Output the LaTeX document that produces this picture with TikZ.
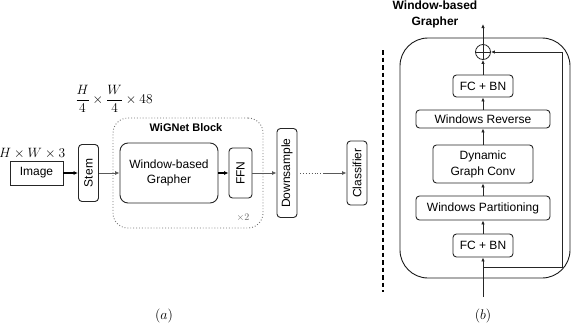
\RequirePackage{fix-cm}
\documentclass[tikz,border=0pt]{standalone}
\usepackage[no-math]{fontspec}
\newfontfamily\arialf{Liberation Sans}
\usetikzlibrary{arrows.meta}
\begin{document}
\begin{tikzpicture}[x=1pt,y=-1pt,
  txt/.style={font=\arialf\fontsize{12}{15}\selectfont},
  box/.style={txt, draw=black!85, line width=0.9pt, rounded corners=3.5pt, inner sep=0pt, align=center},
  vbox/.style={box, rotate=90},
  tipa/.style={-{Latex[length=4.5pt,width=4pt]}},
  thickarrow/.style={tipa, line width=1.5pt, black},
  thinarrow/.style={tipa, line width=0.9pt, black!65},
  barrow/.style={-{Latex[length=4pt,width=3.5pt]}, line width=0.8pt, black!85},
  mathlbl/.style={font=\fontsize{13.5}{16}\selectfont, inner sep=0pt},
  sublbl/.style={font=\fontsize{14}{16}\selectfont, inner sep=0pt},
]
\useasboundingbox (0,0) rectangle (571,335);

% ---------- (a) ----------
\node[draw=black!55, dotted, line width=0.9pt, rounded corners=15pt, minimum width=150pt, minimum height=110pt] (blk) at (188,173) {};
\node[txt, font=\arialf\bfseries\fontsize{11}{13}\selectfont, inner sep=0pt] (blklbl) at (186,128) {WiGNet Block};
\node[font=\fontsize{10}{12}\selectfont, text=black!60, inner sep=0pt] (times2) at (243,218) {$\times 2$};

\node[box, rounded corners=0pt, minimum width=53pt, minimum height=24pt] (img) at (36.5,173) {Image};
\node[mathlbl, anchor=west] (imglbl) at (-1,153) {$H\times W\times 3$};
\node[vbox, minimum width=57pt, minimum height=20pt] (stem) at (88.5,173) {Stem};
\node[mathlbl] (fraclbl) at (114,99) {$\displaystyle\frac{H}{4}\times\frac{W}{4}\times 48$};
\node[box, rounded corners=8pt, minimum width=98pt, minimum height=60pt] (graph) at (169,173) {Window-based\\Grapher};
\node[vbox, minimum width=50pt, minimum height=23pt] (ffn) at (240.5,173) {FFN};
\node[vbox, minimum width=89pt, minimum height=20pt] (ds) at (287,173) {Downsample};
\node[vbox, minimum width=64pt, minimum height=20pt] (cls) at (357,173) {Classifier};

\draw[thickarrow] (img) -- (stem);
\draw[thinarrow] (stem) -- (graph);
\draw[thickarrow] (graph) -- (ffn);
\draw[thinarrow] (ffn) -- (ds);
\coordinate (d1) at (300,173);
\coordinate (d2) at (324,173);
\draw[dotted, line width=0.9pt, black!65] (d1) -- (d2);
\draw[thinarrow] (d2) -- (cls);

\node[sublbl] (la) at (164,316) {$(a)$};

% ---------- divider ----------
\coordinate (v1) at (383,50);
\coordinate (v2) at (383,292);
\draw[line width=1.3pt, dash pattern=on 4.5pt off 3pt] (v1) -- (v2);

% ---------- (b) ----------
\node[txt, font=\arialf\bfseries\fontsize{12}{16}\selectfont, align=center, inner sep=0pt] (title) at (435,14) {Window-based\\Grapher};
\draw[line width=0.9pt, black!90, rounded corners=28pt] (400,38) rectangle (570,278);

\node[circle, draw=black!85, line width=0.8pt, minimum size=15pt, inner sep=0pt] (add) at (483,52) {};
\draw[line width=0.8pt, black!85] (add.north) -- (add.south) (add.west) -- (add.east);
\node[box, minimum width=60pt, minimum height=22pt] (fc2) at (483,86) {FC + BN};
\node[box, minimum width=134pt, minimum height=18pt] (wr) at (483,119) {Windows Reverse};
\node[box, minimum width=100pt, minimum height=38pt, font=\arialf\fontsize{12}{16}\selectfont] (dgc) at (483,164) {Dynamic\\Graph Conv};
\node[box, minimum width=134pt, minimum height=24pt] (wp) at (483,208) {Windows Partitioning};
\node[box, minimum width=60pt, minimum height=23pt] (fc1) at (483,245.5) {FC + BN};

\coordinate (out) at (483,24);
\coordinate (in) at (483,297);
\coordinate (br) at (483,267);
\coordinate (sk1) at (562,267);
\coordinate (sk2) at (562,52);

\draw[barrow] (in) -- (fc1);
\draw[barrow] (fc1) -- (wp);
\draw[barrow] (wp) -- (dgc);
\draw[barrow] (dgc) -- (wr);
\draw[barrow] (wr) -- (fc2);
\draw[barrow] (fc2) -- (add);
\draw[barrow] (add) -- (out);
\draw[barrow] (br) -- (sk1) -- (sk2) -- (add);

\node[sublbl] (lb) at (483,316) {$(b)$};
\end{tikzpicture}
\end{document}
